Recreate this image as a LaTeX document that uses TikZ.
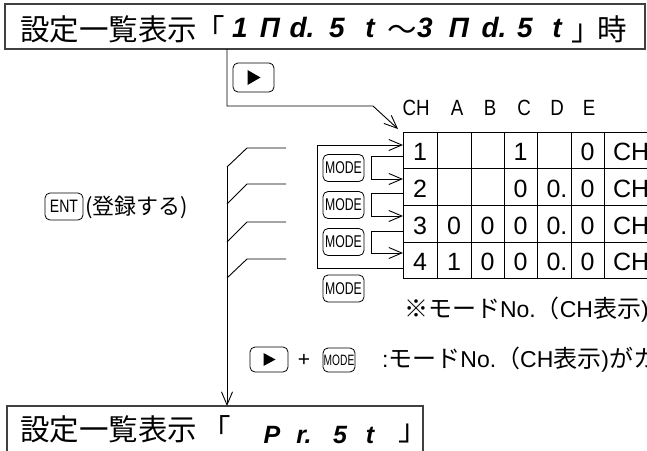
\documentclass[tikz,border=0pt]{standalone}
\usepackage{fontspec}
\usepackage{graphicx}
\setmainfont{Liberation Sans}
\newfontfamily\jp{Noto Sans CJK JP}
\newcommand\latn[1]{{\rmfamily\fontsize{23}{23}\selectfont #1}}
\usetikzlibrary{arrows.meta}
\begin{document}
\begin{tikzpicture}[x=1pt,y=-1pt,
  every node/.style={inner sep=0pt, outer sep=0pt},
  ln/.style={line width=0.9pt},
  arr/.style={ln, -{Straight Barb[length=13pt,width=11pt,line width=0.9pt]}},
  frame/.style={draw=black!75, line width=1.1pt},
  keybox/.style={draw, line width=0.8pt, rounded corners=5pt, minimum width=41pt, minimum height=27pt},
  jbig/.style={font={\jp\fontsize{29.5}{30}\selectfont}, anchor=base west},
  jbr/.style={font={\jp\fontsize{29.5}{30}\selectfont}, anchor=base},
  segt/.style={font={\fontsize{28}{28}\selectfont\bfseries\itshape}, anchor=base},
  segb/.style={font={\fontsize{25}{25}\selectfont\bfseries\itshape}, anchor=base},
  head/.style={font={\fontsize{22}{22}\selectfont}, anchor=base},
  cell/.style={font={\fontsize{25}{25}\selectfont}, anchor=base},
  note/.style={font={\jp\fontsize{24}{24}\selectfont}, anchor=base west},
  modetxt/.style={font={\fontsize{17}{17}\selectfont}},
]
\useasboundingbox (0,0) rectangle (647,450);
\clip (0,0) rectangle (647,450);

% ---------- top box ----------
\node[frame, minimum width=640pt, minimum height=45pt] (top) at (325,26.5) {};
\node[jbig] (t-jp) at (20,40) {設定一覧表示};
\node[jbr] (t-lq) at (210,40) {「};
\node[segt] (t-s1) at (240,37) {1};
\node[segt] (t-s2) at (270,37) {Π};
\node[segt] (t-s3) at (302,37) {d.};
\node[segt] (t-s4) at (337,37) {5};
\node[segt] (t-s5) at (370,37) {t};
\node[jbr]  (t-til) at (402,40) {〜};
\node[segt] (t-s6) at (425,37) {3};
\node[segt] (t-s7) at (459,37) {Π};
\node[segt] (t-s8) at (494,37) {d.};
\node[segt] (t-s9) at (525,37) {5};
\node[segt] (t-s10) at (557,37) {t};
\node[jbr]  (t-rq) at (586,40) {」};
\node[jbr]  (t-ji) at (612,40) {時};

% ---------- play key under top ----------
\node[keybox, minimum width=41pt, minimum height=29pt] (play1) at (253.5,77.5) {};
\fill[shift={(play1.center)}] (-6,-7.5) -- (7,0) -- (-6,7.5) -- cycle;

% ---------- table ----------
\foreach \x/\t in {416/CH,457/A,490/B,524/C,557/D,589/E}
  \node[head] at (\x,115) {\scalebox{0.85}[1]{\t}};
\foreach \yy in {132,168,205,242,278}
  \draw[ln] (403,\yy) -- (660,\yy);
\foreach \xx in {403,437,471,504,537,571,604}
  \draw[ln] (\xx,132) -- (\xx,278);
\foreach \r/\b/\cA/\cB/\cC/\cD/\cE/\cF in {1/160/1/{}/{}/1/{}/0, 2/197/2/{}/{}/0/0./0, 3/234/3/0/0/0/0./0, 4/270/4/1/0/0/0./0}{
  \node[cell] (c\r-1) at (420,\b) {\cA};
  \node[cell] (c\r-2) at (454,\b) {\cB};
  \node[cell] (c\r-3) at (487.5,\b) {\cC};
  \node[cell] (c\r-4) at (520.5,\b) {\cD};
  \node[cell] (c\r-5) at (557,\b) {\cE};
  \node[cell] (c\r-6) at (587.5,\b) {\cF};
  \node[cell, anchor=base west] (c\r-7) at (613,\b) {CH};
}
\coordinate (tabTL) at (398,129);

% ---------- top connector ----------
\coordinate (tv) at (227,106);
\coordinate (tt) at (373,106);
\draw[arr] (top.south -| tv) -- (tv) -- (tt) -- (tabTL);

% ---------- MODE loops ----------
\draw[arr] (403,268) -- (317,268) -- (317,145) -- (403,145);
\foreach \a/\b in {156/179, 193/216, 231/253}
  \draw[arr] (403,\a) -- (371,\a) -- (371,\b) -- (403,\b);
\foreach \i/\yy in {1/168,2/205,3/242,4/288.5}
  \node[keybox, modetxt] (mode\i) at (343.5,\yy) {\scalebox{0.72}[1]{MODE}};

% ---------- notes ----------
\node[note] (note1) at (404,317) {※モード\latn{No.}（\latn{CH}表示\latn{)}が};
\node[keybox, minimum width=38pt, minimum height=25pt] (play2) at (269,359.5) {};
\fill[shift={(play2.center)}] (-5.5,-6.5) -- (6.5,0) -- (-5.5,6.5) -- cycle;
\node[font={\fontsize{21}{21}\selectfont}] (plus) at (304,360) {+};
\node[keybox, minimum width=32pt, minimum height=24pt, font={\fontsize{15}{15}\selectfont}] (mode5) at (339,360) {\scalebox{0.68}[1]{MODE}};
\node[note] (note2) at (382,367) {\latn{:}モード\latn{No.}（\latn{CH}表示\latn{)}がカ};

% ---------- ENT branch ----------
\node[keybox, minimum width=38pt, minimum height=27pt, font={\fontsize{18}{18}\selectfont}] (ent) at (64,206.5) {\scalebox{0.78}[1]{ENT}};
\node[note, font={\jp\fontsize{22}{22}\selectfont}] (entlbl) at (85,214) {(登録する)};

\coordinate (b1) at (227,167);
\foreach \h/\d in {148/167,184/204,222/242,259/278}
  \draw[ln] (286,\h) -- (247,\h) -- (227,\d);

% ---------- bottom box ----------
\node[frame, minimum width=416pt, minimum height=48pt] (bot) at (215,430) {};
\draw[arr] (b1) -- (bot.north -| b1);
\node[jbig] (b-jp) at (20,440) {設定一覧表示};
\node[jbr] (b-lq) at (216,440) {「};
\node[segb] (b-s1) at (272,443) {P};
\node[segb] (b-s2) at (304,443) {r.};
\node[segb] (b-s3) at (340,443) {5};
\node[segb] (b-s4) at (370,443) {t};
\node[jbr] (b-rq) at (413,440) {」};
\end{tikzpicture}
\end{document}
